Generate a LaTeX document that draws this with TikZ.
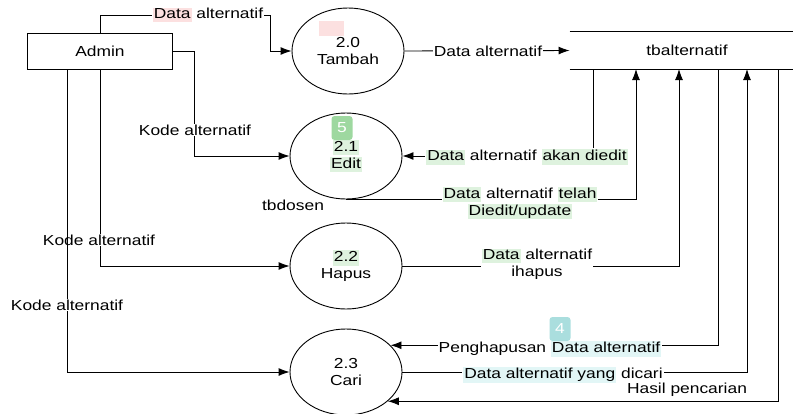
\documentclass[tikz,border=0pt]{standalone}
\usepackage{fontspec}
\setmainfont{Liberation Sans}[FakeStretch=1.2]
\usetikzlibrary{shapes.geometric, arrows.meta}

\definecolor{hlpink}{RGB}{252,224,224}
\definecolor{hlgreen}{RGB}{222,242,222}
\definecolor{hlteal}{RGB}{226,246,246}
\definecolor{badgegreen}{RGB}{158,216,160}
\definecolor{badgeteal}{RGB}{170,222,222}
\newcommand{\hl}[2]{{\setlength{\fboxsep}{1pt}\colorbox{#1}{\vphantom{Dg}#2}}}

\begin{document}
\begin{tikzpicture}
	[x=1pt,y=-1pt,line width=0.9pt,font=\fontsize{14.5}{17}\selectfont,
	 proc/.style={ellipse,draw,minimum width=112pt,minimum height=86pt,inner sep=0pt,align=center},
	 lbl/.style={fill=white,inner sep=1pt,align=center},
	 badge/.style={text=white,rounded corners=3pt,minimum width=21pt,minimum height=24pt,inner sep=0pt},
	 arr/.style={-{Latex[length=11pt,width=8pt]}}]

	\useasboundingbox (0,0) rectangle (793,413);

	% entitas, proses dan data store
	\node[draw,minimum width=145pt,minimum height=36pt] (admin) at (100,51) {Admin};
	\node[proc] (tambah) at (348,51) {2.0\\Tambah};
	\node[proc] (edit) at (346,156) {\hl{hlgreen}{2.1}\\\hl{hlgreen}{Edit}};
	\node[proc] (hapus) at (346,266) {\hl{hlgreen}{2.2}\\Hapus};
	\node[proc] (cari) at (346,372) {2.3\\Cari};
	\node[minimum width=223pt,minimum height=37pt] (store) at (681.5,50.5) {};
	\node (storelbl) at (687,50) {tbalternatif};
	\draw (store.north west) -- (store.north east) (store.south west) -- (store.south east);
	\foreach \n/\x in {s1/593,s2/636,s3/679,s4/718,s5/747,s6/778}
		\coordinate (\n) at (\x,69);

	\node (dosen) at (293,205) {tbdosen};

	% alur dari admin
	\draw[arr] (admin.north) |- (270,15) |- (tambah.west);
	\node[lbl] at (208,15) {\hl{hlpink}{Data} alternatif};
	\draw[arr] (admin.east) -- (194,51) |- (edit.west);
	\node[lbl] at (195,130) {Kode alternatif};
	\draw[arr] (admin.south) |- (hapus.west);
	\node[lbl] at (99,240) {Kode alternatif};
	\draw[arr] ([xshift=40pt]admin.south west) |- (cari.west);
	\node[lbl] at (67,305) {Kode alternatif};

	% alur ke/dari tbalternatif
	\draw[arr] (tambah.east) -- (store.west);
	\node[lbl] at (488,51) {Data alternatif};
	\draw[arr] (s1) |- (edit.east);
	\node[lbl] at (527,157) {\hl{hlgreen}{Data} alternatif \hl{hlgreen}{akan diedit}};
	\draw[arr] (edit.south) -| (s2);
	\node[lbl] at (520,203) {\hl{hlgreen}{Data} alternatif \hl{hlgreen}{telah}\\\hl{hlgreen}{Diedit/update}};
	\draw[arr] (hapus.east) -| (s3);
	\node[lbl] at (537,264) {\hl{hlgreen}{Data} alternatif\\ihapus};
	\draw[arr] (s4) |- (cari.31);
	\node[lbl] at (550,349) {Penghapusan \hl{hlteal}{Data alternatif}};
	\draw[arr] (cari.east) -| (s5);
	\node[lbl] at (563,375) {\hl{hlteal}{Data alternatif yang} dicari};
	\draw[arr] (s6) |- (cari.-35);
	\node (hasil) at (687,390) {Hasil pencarian};

	% tanda
	\node[badge,fill=badgegreen] (badge5) at (342,128) {5};
	\node[badge,fill=badgeteal] (badge4) at (560,329) {4};
	\node[fill=hlpink,minimum width=25pt,minimum height=15pt,inner sep=0pt] (mark) at (331,28) {};

\end{tikzpicture}
\end{document}
